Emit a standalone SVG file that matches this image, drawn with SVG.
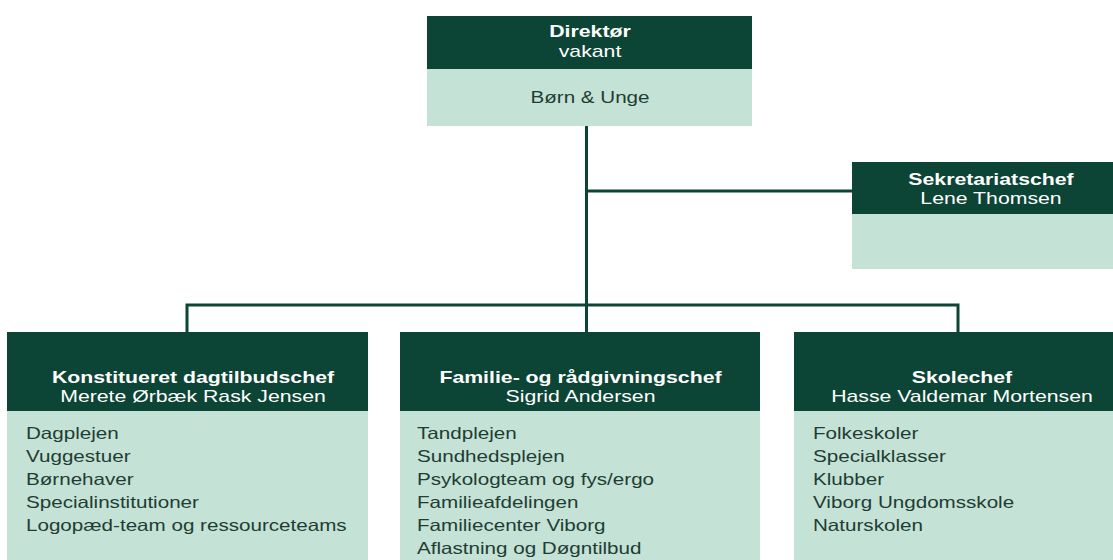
<svg xmlns="http://www.w3.org/2000/svg" width="1113" height="560" viewBox="0 0 1113 560">
<style>
.hd{fill:#0c4535}
.bd{fill:#c5e2d7}
text{font-family:"Liberation Sans",Arial,sans-serif}
.t{font-weight:bold;font-size:17px;fill:#ffffff;text-anchor:middle}
.n{font-size:17px;fill:#ffffff;text-anchor:middle}
.c{font-size:16.5px;fill:#1f3d33;text-anchor:middle}
.l{font-size:16.5px;fill:#1f3d33}
.con{fill:none;stroke:#0c4535;stroke-width:3}
</style>
<rect width="1113" height="560" fill="#ffffff"/>
<g id="connectors">
<path class="con" d="M586.5 126V305"/>
<path class="con" d="M586.5 191H852"/>
<path class="con" d="M187 332V305H958V332"/>
<path class="con" d="M586.5 305V332"/>
</g>
<g id="direktor">
<rect class="hd" x="427" y="16" width="325" height="53"/>
<rect class="bd" x="427" y="69" width="325" height="57"/>
<g transform="scale(1.25 1)">
<text class="t" x="472" y="37">Direktør</text>
<text class="n" x="472" y="57">vakant</text>
<text class="c" x="472" y="103">Børn &amp; Unge</text>
</g>
</g>
<g id="sekretariat">
<rect class="hd" x="852" y="162" width="261" height="52"/>
<rect class="bd" x="852" y="214" width="261" height="55"/>
<g transform="scale(1.25 1)">
<text class="t" x="792.8" y="185">Sekretariatschef</text>
<text class="n" x="792.8" y="204">Lene Thomsen</text>
</g>
</g>
<g id="dagtilbud">
<rect class="hd" x="7" y="332" width="361" height="79"/>
<rect class="bd" x="7" y="411" width="361" height="149"/>
<g transform="scale(1.25 1)">
<text class="t" x="154.4" y="383">Konstitueret dagtilbudschef</text>
<text class="n" x="154.4" y="402">Merete Ørbæk Rask Jensen</text>
<text class="l" x="20.8" y="439">Dagplejen</text>
<text class="l" x="20.8" y="462">Vuggestuer</text>
<text class="l" x="20.8" y="485">Børnehaver</text>
<text class="l" x="20.8" y="508">Specialinstitutioner</text>
<text class="l" x="20.8" y="531">Logopæd-team og ressourceteams</text>
</g>
</g>
<g id="familie">
<rect class="hd" x="400" y="332" width="360" height="79"/>
<rect class="bd" x="400" y="411" width="360" height="149"/>
<g transform="scale(1.25 1)">
<text class="t" x="464.4" y="383">Familie- og rådgivningschef</text>
<text class="n" x="464.4" y="402">Sigrid Andersen</text>
<text class="l" x="333.6" y="439">Tandplejen</text>
<text class="l" x="333.6" y="462">Sundhedsplejen</text>
<text class="l" x="333.6" y="485">Psykologteam og fys/ergo</text>
<text class="l" x="333.6" y="508">Familieafdelingen</text>
<text class="l" x="333.6" y="531">Familiecenter Viborg</text>
<text class="l" x="333.6" y="554">Aflastning og Døgntilbud</text>
</g>
</g>
<g id="skole">
<rect class="hd" x="794" y="332" width="319" height="79"/>
<rect class="bd" x="794" y="411" width="319" height="149"/>
<g transform="scale(1.25 1)">
<text class="t" x="769.6" y="383">Skolechef</text>
<text class="n" x="769.6" y="402">Hasse Valdemar Mortensen</text>
<text class="l" x="650.4" y="439">Folkeskoler</text>
<text class="l" x="650.4" y="462">Specialklasser</text>
<text class="l" x="650.4" y="485">Klubber</text>
<text class="l" x="650.4" y="508">Viborg Ungdomsskole</text>
<text class="l" x="650.4" y="531">Naturskolen</text>
</g>
</g>
</svg>
